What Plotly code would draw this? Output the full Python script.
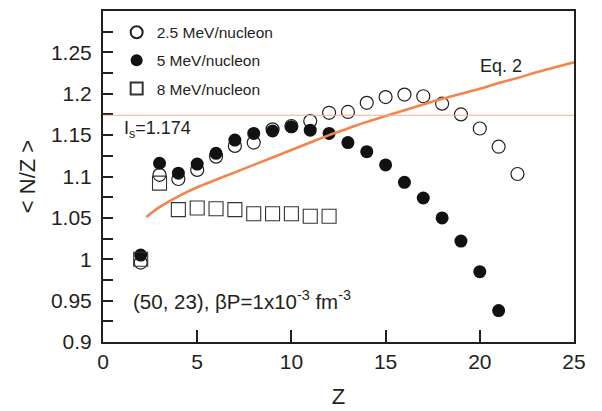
import plotly.graph_objects as go

# <N/Z> of fragments versus charge Z, source (50, 23)
Z_25 = list(range(2, 23))
NZ_25 = [0.996, 1.102, 1.097, 1.108, 1.124, 1.137, 1.141, 1.157, 1.161, 1.167, 1.177,
         1.178, 1.189, 1.196, 1.199, 1.197, 1.188, 1.175, 1.158, 1.136, 1.103]

Z_5 = list(range(2, 22))
NZ_5 = [1.005, 1.116, 1.104, 1.115, 1.128, 1.144, 1.152, 1.155, 1.160, 1.156,
        1.152, 1.141, 1.130, 1.114, 1.093, 1.074, 1.050, 1.022, 0.985, 0.938]

Z_8 = list(range(2, 13))
NZ_8 = [1.000, 1.092, 1.060, 1.062, 1.061, 1.060, 1.055, 1.055, 1.055, 1.052, 1.052]

# Eq. 2 prediction
EQ2_Z = [2.3, 3, 4, 5, 6, 7, 8, 9, 10, 11, 12, 13, 14, 15, 16, 17, 18, 19, 20,
         21, 22, 23, 24, 25]
EQ2_NZ = [1.051, 1.063, 1.076, 1.087, 1.096, 1.105, 1.114, 1.123, 1.132, 1.141,
          1.150, 1.158, 1.166, 1.173, 1.180, 1.187, 1.194, 1.200, 1.206, 1.213,
          1.219, 1.226, 1.232, 1.238]

IS_VALUE = 1.174

Y_TICKS = [0.9, 0.95, 1.0, 1.05, 1.1, 1.15, 1.2, 1.25, 1.3]
Y_TICK_TEXT = ["0.9", "0.95", "1", "1.05", "1.1", "1.15", "1.2", "1.25", "1.3"]
Y_MINOR = [0.925, 0.975, 1.025, 1.075, 1.125, 1.175, 1.225, 1.275]
X_TICKS = [0, 5, 10, 15, 20, 25]

FONT = "Liberation Sans, Arial, Helvetica, sans-serif"
INK = "#231f20"
LINE_ORANGE = "#f4844c"
LIGHT_ORANGE = "#f6b08e"

fig = go.Figure()

fig.add_trace(go.Scatter(
    x=Z_25, y=NZ_25, mode="markers", name="2.5 MeV/nucleon", legendgroup="a",
    marker=dict(symbol="circle-open", size=13, color=INK, line=dict(width=1.2, color=INK)),
))
fig.add_trace(go.Scatter(
    x=Z_5, y=NZ_5, mode="markers", name="5 MeV/nucleon", legendgroup="b",
    marker=dict(symbol="circle", size=13, color="#111111", line=dict(width=0)),
))
fig.add_trace(go.Scatter(
    x=Z_8, y=NZ_8, mode="markers", name="8 MeV/nucleon", legendgroup="c",
    marker=dict(symbol="square-open", size=14, color="#333333", line=dict(width=1.1, color="#333333")),
))
fig.add_trace(go.Scatter(
    x=EQ2_Z, y=EQ2_NZ, mode="lines", showlegend=False,
    line=dict(color=LINE_ORANGE, width=2.6, shape="spline", smoothing=1.0),
))

fig.add_hline(y=IS_VALUE, line=dict(color=LIGHT_ORANGE, width=1.2))

fig.add_annotation(x=1.0, y=1.1574, xref="x", yref="y", xanchor="left", yanchor="middle",
                   text="I<sub>s</sub>=1.174", showarrow=False,
                   font=dict(family=FONT, size=18, color=INK))
fig.add_annotation(x=21.1, y=1.2335, xref="x", yref="y", xanchor="center", yanchor="middle",
                   text="Eq. 2", showarrow=False,
                   font=dict(family=FONT, size=18, color=INK))
fig.add_annotation(x=1.5, y=0.951, xref="x", yref="y", xanchor="left", yanchor="middle",
                   text="(50, 23), βP=1x10<sup>-3</sup> fm<sup>-3</sup>", showarrow=False,
                   font=dict(family=FONT, size=20.5, color=INK))

fig.update_xaxes(
    range=[0, 25], tickvals=X_TICKS, ticks="inside", ticklen=12, tickwidth=1.5,
    tickcolor=INK, showline=True, linecolor=INK, linewidth=2, mirror=True,
    showgrid=False, zeroline=False, automargin=False,
    tickfont=dict(family=FONT, size=21, color=INK),
    title=dict(text="Z", font=dict(family=FONT, size=22, color=INK), standoff=16),
)
fig.update_yaxes(
    range=[0.9, 1.3], tickvals=Y_TICKS, ticktext=Y_TICK_TEXT, ticks="inside",
    ticklen=10, tickwidth=1.5, tickcolor=INK, showline=True, linecolor=INK,
    linewidth=2, mirror=True, showgrid=False, zeroline=False, automargin=False,
    ticklabelstandoff=5,
    minor=dict(tickvals=Y_MINOR, ticks="inside", ticklen=10, tickwidth=1.5, tickcolor=INK),
    tickfont=dict(family=FONT, size=21, color=INK),
    title=dict(text="&lt; N/Z &gt;", font=dict(family=FONT, size=22, color=INK), standoff=9),
)

fig.update_layout(
    width=602, height=411,
    margin=dict(l=103, r=28, t=11, b=69),
    paper_bgcolor="white", plot_bgcolor="white",
    showlegend=True,
    legend=dict(x=0.029, y=0.986, xanchor="left", yanchor="top",
                bgcolor="rgba(0,0,0,0)", tracegroupgap=5,
                font=dict(family=FONT, size=15.5, color=INK), itemsizing="constant"),
)

fig.write_html("out.html")
